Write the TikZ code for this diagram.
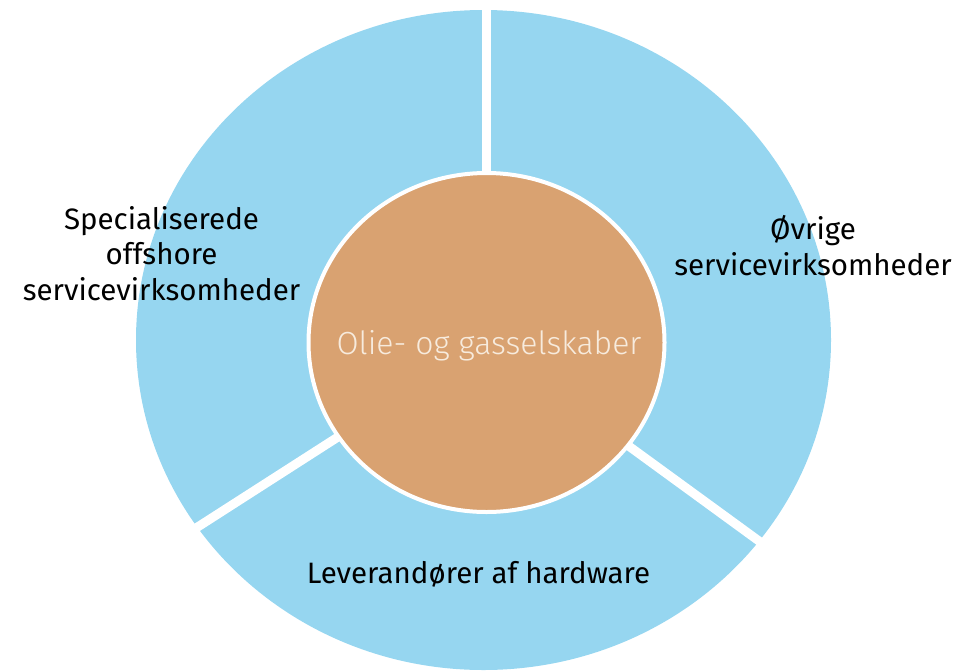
\documentclass[tikz,border=0pt]{standalone}
\usepackage{fontspec}
\setmainfont{Fira Sans}
\newfontfamily\lightfont{Fira Sans}[UprightFont=* Light]
\usetikzlibrary{shapes.geometric}
\definecolor{ringblue}{HTML}{96D6F0}
\definecolor{corebrown}{HTML}{D9A271}
\definecolor{coretext}{HTML}{F7EBDD}
\begin{document}
\begin{tikzpicture}[x=1pt,y=-1pt,
  gap/.style={draw=white,line width=9pt},
  label/.style={anchor=base,align=center,inner sep=0pt,text=black,font=\fontsize{29.5}{35.5}\selectfont}]
\useasboundingbox (0,0) rectangle (979,670);
\fill[ringblue] (483.5,340) ellipse [x radius=347.5, y radius=330];
\coordinate (c) at (486,342);
\coordinate (gtop) at (486,-60);
\coordinate (gleft) at (67.5,610.5);
\coordinate (gright) at (903,646);
\draw[gap] (c) -- (gtop);
\draw[gap] (c) -- (gleft);
\draw[gap] (c) -- (gright);
\node[draw=white,line width=4pt,fill=corebrown,ellipse,minimum width=356pt,minimum height=339pt,inner sep=0pt] (core) at (486.5,342.5) {};
\node[anchor=base,inner sep=0pt,text=coretext,font=\lightfont\fontsize{32}{36}\selectfont] (coretxt) at (489,354) {Olie- og gasselskaber};
\node[label] (left) at (161.5,300) {Specialiserede\\offshore\\servicevirksomheder};
\node[label] (right) at (813,275) {Øvrige\\servicevirksomheder};
\node[label] (bottom) at (478.5,583) {Leverandører af hardware};
\end{tikzpicture}
\end{document}
